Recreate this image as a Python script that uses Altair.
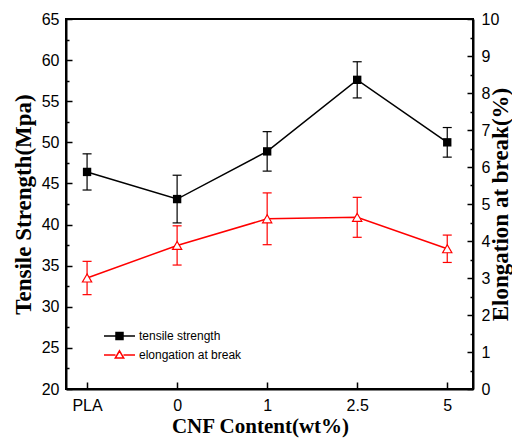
import altair as alt
import pandas as pd

categories = ["PLA", "0", "1", "2.5", "5"]
tensile = [46.4, 43.1, 48.9, 57.6, 50.0]
tensile_err = [2.2, 2.9, 2.4, 2.2, 1.8]
elong = [3.0, 3.88, 4.6, 4.64, 3.79]
elong_err = [0.45, 0.53, 0.7, 0.54, 0.37]
series_names = ["tensile strength", "elongation at break"]
left_major = [20, 25, 30, 35, 40, 45, 50, 55, 60, 65]
left_minor = [22.5, 27.5, 32.5, 37.5, 42.5, 47.5, 52.5, 57.5, 62.5]
right_major = [0, 1, 2, 3, 4, 5, 6, 7, 8, 9, 10]
right_minor = [0.5, 1.5, 2.5, 3.5, 4.5, 5.5, 6.5, 7.5, 8.5, 9.5]

df = pd.DataFrame({
    "cat": categories,
    "ts": tensile,
    "ts_lo": [v - e for v, e in zip(tensile, tensile_err)],
    "ts_hi": [v + e for v, e in zip(tensile, tensile_err)],
    "el": elong,
    "el_lo": [v - e for v, e in zip(elong, elong_err)],
    "el_hi": [v + e for v, e in zip(elong, elong_err)],
})

base = alt.Chart(df)
xs = alt.Scale(type="point", domain=categories, padding=0.26, align=0.45)
ys_left = alt.Scale(domain=[20, 65], nice=False, zero=False)
ys_right = alt.Scale(domain=[0, 10], nice=False, zero=False)

SERIF = "Liberation Serif"
SANS = "Liberation Sans"


def X(axis=None):
    return alt.X("cat:N", scale=xs, sort=categories, axis=axis)


main_x_axis = alt.Axis(
    title="CNF Content(wt%)", orient="bottom", ticks=False, domainWidth=2,
    domainColor="black", labelFont=SANS, labelFontSize=16, labelColor="black",
    labelPadding=8, labelAngle=0, titleFont=SERIF, titleFontSize=21,
    titleFontWeight="bold", titleColor="black", titlePadding=2, titleX=194,
    grid=False,
)
left_axis = alt.Axis(
    title="Tensile Strength(Mpa)", orient="left", values=left_major, ticks=False,
    domainWidth=2, domainColor="black", labelFont=SANS, labelFontSize=16,
    labelColor="black", labelPadding=7, titleFont=SERIF, titleFontSize=23,
    titleFontWeight="bold", titleColor="black", titlePadding=6, grid=False,
)
right_axis = alt.Axis(
    title="Elongation at break(%)", orient="right", values=right_major, ticks=False,
    domainWidth=2, domainColor="black", labelFont=SANS, labelFontSize=16,
    labelColor="black", labelPadding=8, titleFont=SERIF, titleFontSize=23,
    titleFontWeight="bold", titleColor="black", titleAngle=270,
    titleBaseline="top", titleX=16, grid=False,
)


def tick_axis(orient, values, size):
    return alt.Axis(orient=orient, values=values, offset=-size, tickSize=size,
                    tickWidth=1.5, tickColor="black", domain=False, labels=False,
                    title=None, grid=False)


# tensile layers
ts_line = base.mark_line(color="black", strokeWidth=1.5).encode(
    x=X(main_x_axis), y=alt.Y("ts:Q", scale=ys_left, axis=left_axis))
ts_rule = base.mark_rule(color="black", strokeWidth=1.2).encode(
    x=X(), y=alt.Y("ts_lo:Q", scale=ys_left, axis=None), y2="ts_hi:Q")
ts_cap_hi = base.mark_tick(color="black", thickness=1.2, size=9, orient="horizontal", opacity=1).encode(
    x=X(), y=alt.Y("ts_hi:Q", scale=ys_left, axis=None))
ts_cap_lo = base.mark_tick(color="black", thickness=1.2, size=9, orient="horizontal", opacity=1).encode(
    x=X(), y=alt.Y("ts_lo:Q", scale=ys_left, axis=None))
ts_pts = base.mark_point(shape="square", filled=True, color="black", size=70, opacity=1).encode(
    x=X(), y=alt.Y("ts:Q", scale=ys_left, axis=None))

# elongation layers
el_line = base.mark_line(color="red", strokeWidth=1.5).encode(
    x=X(), y=alt.Y("el:Q", scale=ys_right, axis=right_axis))
el_rule = base.mark_rule(color="red", strokeWidth=1.2).encode(
    x=X(), y=alt.Y("el_lo:Q", scale=ys_right, axis=None), y2="el_hi:Q")
el_cap_hi = base.mark_tick(color="red", thickness=1.2, size=9, orient="horizontal", opacity=1).encode(
    x=X(), y=alt.Y("el_hi:Q", scale=ys_right, axis=None))
el_cap_lo = base.mark_tick(color="red", thickness=1.2, size=9, orient="horizontal", opacity=1).encode(
    x=X(), y=alt.Y("el_lo:Q", scale=ys_right, axis=None))
el_pts = base.mark_point(shape="triangle-up", filled=True, fill="white", stroke="red",
                         strokeWidth=1.2, size=85, opacity=1).encode(
    x=X(), y=alt.Y("el:Q", scale=ys_right, axis=None))

# inward tick axes
tk_left_major = base.mark_point(opacity=0).encode(
    x=X(tick_axis("bottom", categories, 7)),
    y=alt.Y("ts:Q", scale=ys_left, axis=tick_axis("left", left_major, 6)))
tk_left_minor = base.mark_point(opacity=0).encode(
    x=X(), y=alt.Y("ts:Q", scale=ys_left, axis=tick_axis("left", left_minor, 3)))
tk_right_major = base.mark_point(opacity=0).encode(
    x=X(), y=alt.Y("el:Q", scale=ys_right, axis=tick_axis("right", right_major, 6)))
tk_right_minor = base.mark_point(opacity=0).encode(
    x=X(), y=alt.Y("el:Q", scale=ys_right, axis=tick_axis("right", right_minor, 3)))

# legend
path_sq = "M-1.55,0H-0.35M0.35,0H1.55M-0.35,-0.35H0.35V0.35H-0.35Z"
path_tri = "M-1.55,0H-0.4M0.4,0H1.55M0,-0.42L0.42,0.3L-0.42,0.3Z"
leg = alt.Legend(title=None, orient="none", legendX=42.5, legendY=306, symbolSize=400,
                 symbolStrokeWidth=1.5, labelFont=SANS, labelFontSize=12, labelColor="black",
                 labelOffset=8.5, rowPadding=1, padding=0, symbolOpacity=1)
legend_layer = alt.Chart(pd.DataFrame({"series": series_names})).transform_filter("false").mark_point(
    filled=True, strokeWidth=1.5, opacity=1).encode(
    shape=alt.Shape("series:N", scale=alt.Scale(domain=series_names, range=[path_sq, path_tri]), legend=leg),
    stroke=alt.Stroke("series:N", scale=alt.Scale(domain=series_names, range=["black", "red"]), legend=leg),
    fill=alt.Fill("series:N", scale=alt.Scale(domain=series_names, range=["black", "white"]), legend=leg),
)

chart = alt.layer(
    tk_left_major, tk_left_minor, tk_right_major, tk_right_minor,
    ts_line, ts_rule, ts_cap_hi, ts_cap_lo, ts_pts,
    el_line, el_rule, el_cap_hi, el_cap_lo, el_pts,
    legend_layer,
).resolve_scale(y="independent").resolve_axis(x="independent", y="independent").properties(
    width=407, height=370,
    padding={"left": 58, "top": 11, "right": 39, "bottom": 49},
    autosize=alt.AutoSizeParams(type="none"),
).configure_view(stroke="black", strokeWidth=2)

chart.save("out.html", embed_options={"renderer": "svg", "actions": False})
